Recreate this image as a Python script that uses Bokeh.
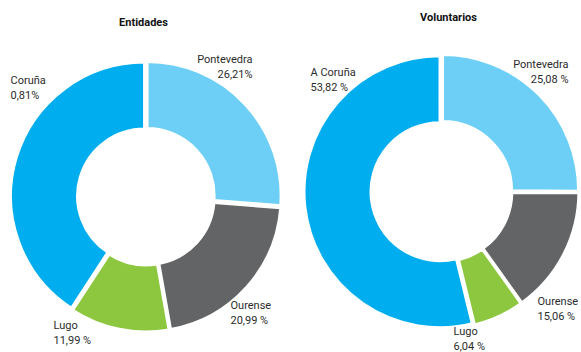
import math
from bokeh.plotting import figure
from bokeh.models import ColumnDataSource, Range1d
from bokeh.core.properties import value
from bokeh.embed import file_html
from bokeh.resources import INLINE

# Slice order runs clockwise from 12 o'clock
colors = ["#6dcff6", "#636466", "#8dc63f", "#00aeef"]

entidades_names = ["Pontevedra", "Ourense", "Lugo", "Coruña"]
entidades_pct = [26.21, 20.99, 11.99, 40.81]
entidades_labels = ["26,21%", "20,99 %", "11,99 %", "0,81%"]

voluntarios_names = ["Pontevedra", "Ourense", "Lugo", "A Coruña"]
voluntarios_pct = [25.08, 15.06, 6.04, 53.82]
voluntarios_labels = ["25,08 %", "15,06 %", "6,04 %", "53,82 %"]

W, H = 581, 352
FONT = "Roboto"

p = figure(width=W, height=H, x_range=Range1d(0, W), y_range=Range1d(0, H),
           x_axis_type=None, y_axis_type=None, toolbar_location=None,
           output_backend="svg", min_border=0)
p.xgrid.visible = False
p.ygrid.visible = False
p.outline_line_color = None
p.background_fill_color = "white"
p.border_fill_color = "white"


def donut(cx, cy, r_in, r_out, pct, names, labels, anchors, aligns, title, title_xy):
    """Draw one ring chart centred at (cx, cy) in screen pixels (y measured from top)."""
    cy_d = H - cy
    total = sum(pct)
    xs, ys, starts, ends = [], [], [], []
    cum = 0.0
    shift = 1.5
    for v in pct:
        a0 = math.pi / 2 - 2 * math.pi * cum / total
        a1 = math.pi / 2 - 2 * math.pi * (cum + v) / total
        mid = (a0 + a1) / 2
        xs.append(cx + shift * math.cos(mid))
        ys.append(cy_d + shift * math.sin(mid))
        starts.append(a0)
        ends.append(a1)
        cum += v
    src = ColumnDataSource(dict(x=xs, y=ys, start=starts, end=ends, color=colors, pct=pct))
    p.annular_wedge(x="x", y="y", inner_radius=r_in, outer_radius=r_out,
                    start_angle="start", end_angle="end", direction="clock",
                    fill_color="color", line_color="white", line_width=3, source=src)

    lsrc = ColumnDataSource(dict(
        x=[a[0] for a in anchors],
        y=[H - a[1] for a in anchors],
        text=[f"{n}\n{l}" for n, l in zip(names, labels)],
        align=aligns,
    ))
    p.text(x="x", y="y", text="text", text_align="align", text_baseline="top",
           text_font=value(FONT), text_font_size="11px", text_color="#2b2b2b",
           text_line_height=1.2, source=lsrc)

    p.text(x=[title_xy[0]], y=[H - title_xy[1]], text=[title], text_align="center",
           text_baseline="middle", text_font=value(FONT), text_font_style="bold",
           text_font_size="11px", text_color="#111111")


donut(145.5, 196, 67, 134, entidades_pct, entidades_names, entidades_labels,
      anchors=[(252, 52), (230, 298), (53, 318), (10, 73)],
      aligns=["right", "left", "left", "left"],
      title="Entidades", title_xy=(143, 22))

donut(441, 191, 69, 136, voluntarios_pct, voluntarios_names, voluntarios_labels,
      anchors=[(568, 57), (537, 294), (453, 324), (310, 65)],
      aligns=["right", "left", "left", "left"],
      title="Voluntarios", title_xy=(448, 17))

open("out.html", "w").write(file_html(p, INLINE))
